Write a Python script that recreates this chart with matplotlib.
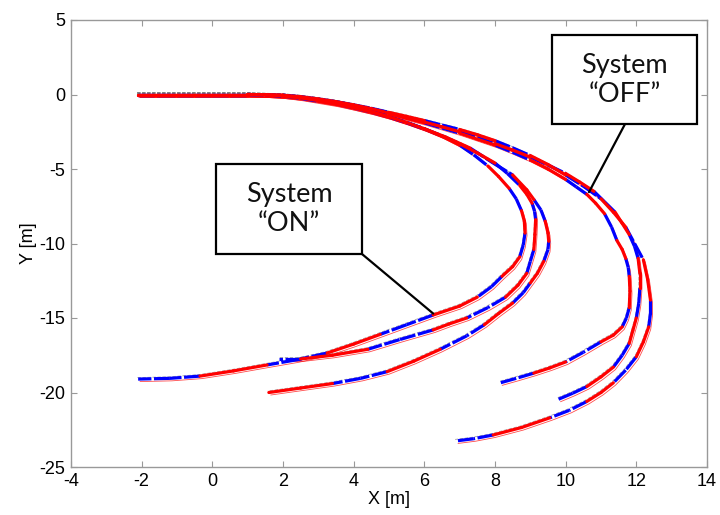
import numpy as np
import matplotlib
matplotlib.use("Agg")
import matplotlib.pyplot as plt
from matplotlib.collections import LineCollection
from matplotlib.patches import Rectangle
from matplotlib.transforms import offset_copy

plt.rcParams['font.family'] = ['Liberation Sans', 'DejaVu Sans']
plt.rcParams['axes.unicode_minus'] = False

# trajectories, system ON (turn near x = 9)
on1_x = [-2.1, -1.5, -1, -0.5, 0, 0.5, 1, 1.5, 2, 2.5, 3, 3.5, 4, 4.5, 5, 5.5, 6, 6.5, 7, 7.4, 7.8, 8.1, 8.4, 8.6,
         8.75, 8.83, 8.85, 8.8, 8.7, 8.5, 8.2, 7.9, 7.5, 7.0, 6.25, 5.5, 4.75, 4.0, 3.25, 2.4, 1.55, 0.6, -0.35, -1.2, -2.1]
on1_y = [0, 0, 0, 0, 0, 0, 0, -0.03, -0.1, -0.22, -0.4, -0.6, -0.85, -1.15, -1.5, -1.88, -2.3, -2.8, -3.4, -4.05, -4.8,
         -5.5, -6.3, -7.0, -7.8, -8.5, -9.3, -10.1, -10.9, -11.55, -12.2, -12.9, -13.6, -14.2, -14.8, -15.45, -16.1,
         -16.75, -17.35, -17.8, -18.15, -18.55, -18.9, -19.05, -19.1]

on2_x = [-2.1, -1.5, -1, -0.5, 0, 0.5, 1, 1.5, 2, 2.5, 3, 3.5, 4, 4.5, 5, 5.5, 6, 6.5, 7, 7.5, 8, 8.35, 8.7, 8.9,
         9.05, 9.12, 9.15, 9.13, 9.1, 9.0, 8.9, 8.65, 8.3, 7.8, 7.2, 6.7, 6.25, 5.3, 4.4, 3.4, 2.5, 1.9]
on2_y = [0, 0, 0, 0, 0, 0, 0, -0.03, -0.1, -0.25, -0.45, -0.65, -0.9, -1.18, -1.5, -1.88, -2.3, -2.78, -3.3, -3.92,
         -4.6, -5.3, -6.1, -6.7, -7.3, -7.85, -8.4, -9.4, -10.4, -11.2, -12.0, -12.8, -13.6, -14.3, -15.0, -15.4,
         -15.8, -16.45, -17.1, -17.5, -17.75, -17.75]

on3_x = [-2.1, -1.5, -1, -0.5, 0, 0.5, 1, 1.5, 2, 2.5, 3, 3.5, 4, 4.5, 5, 5.5, 6, 6.6, 7.3, 7.95, 8.5, 8.9, 9.1, 9.3,
         9.42, 9.5, 9.52, 9.5, 9.38, 9.2, 9.0, 8.8, 8.5, 8.1, 7.7, 7.2, 6.45, 5.7, 4.95, 4.2, 3.4, 2.5, 1.6]
on3_y = [0, 0, 0, 0, 0, 0, 0, -0.03, -0.1, -0.22, -0.4, -0.62, -0.9, -1.18, -1.5, -1.88, -2.3, -2.85, -3.6, -4.6, -5.4,
         -6.4, -7.05, -7.75, -8.5, -9.3, -9.85, -10.4, -11.2, -12.0, -12.65, -13.3, -14.0, -14.7, -15.45, -16.2,
         -17.1, -17.9, -18.6, -19.05, -19.4, -19.7, -20.0]

# trajectories, system OFF (turn near x = 12)
off1_x = [-2.1, -1.5, -1, -0.5, 0, 0.5, 1, 1.5, 2, 2.5, 3, 3.5, 4, 4.5, 5, 5.5, 6, 6.5, 7, 7.5, 8, 8.5, 9, 9.5, 10,
          10.3, 10.6, 10.85, 11.1, 11.3, 11.45, 11.6, 11.7, 11.77, 11.8, 11.82, 11.8, 11.72, 11.6, 11.35, 11.0,
          10.5, 10.0, 9.55, 9.1, 8.6, 8.15]
off1_y = [0, 0, 0, 0, 0, 0, 0, -0.02, -0.05, -0.18, -0.35, -0.53, -0.75, -1.0, -1.3, -1.6, -1.9, -2.25, -2.6, -3.0,
          -3.4, -3.88, -4.4, -5.0, -5.7, -6.2, -6.7, -7.3, -8.0, -8.9, -9.8, -10.4, -11.0, -11.6, -12.2, -13.2,
          -14.3, -15.0, -15.6, -16.15, -16.6, -17.3, -17.95, -18.35, -18.7, -19.05, -19.35]

off2_x = [-2.1, -1.5, -1, -0.5, 0, 0.5, 1, 1.5, 2, 2.5, 3, 3.5, 4, 4.5, 5, 5.5, 6, 6.5, 7, 7.5, 8, 8.5, 9, 9.5, 10,
          10.4, 10.8, 11.1, 11.4, 11.6, 11.8, 11.95, 12.05, 12.1, 12.1, 12.07, 12.0, 11.9, 11.8, 11.6, 11.35, 11.0,
          10.6, 10.2, 9.8]
off2_y = [0, 0, 0, 0, 0, 0, 0, -0.02, -0.05, -0.15, -0.3, -0.48, -0.7, -0.95, -1.25, -1.55, -1.85, -2.17, -2.5,
          -2.88, -3.3, -3.73, -4.2, -4.73, -5.3, -5.88, -6.5, -7.2, -7.9, -8.65, -9.4, -10.2, -11.0, -12.0, -13.0,
          -14.0, -15.0, -15.85, -16.7, -17.5, -18.3, -18.95, -19.6, -20.05, -20.45]

off3_x = [-2.1, -1.5, -1, -0.5, 0, 0.5, 1, 1.5, 2, 2.5, 3, 3.5, 4, 4.5, 5, 5.5, 6, 6.5, 7, 7.5, 8, 8.5, 9, 9.5, 10,
          10.5, 11, 11.35, 11.7, 11.95, 12.2, 12.32, 12.4, 12.4, 12.35, 12.2, 12.0, 11.7, 11.35, 11.0, 10.6, 10.1,
          9.55, 8.75, 7.95, 7.4, 6.9]
off3_y = [0, 0, 0, 0, 0, 0, 0, -0.02, -0.05, -0.15, -0.3, -0.48, -0.7, -0.93, -1.2, -1.47, -1.75, -2.05, -2.35,
          -2.7, -3.1, -3.58, -4.1, -4.7, -5.4, -6.15, -7.0, -7.9, -8.9, -10.0, -11.1, -12.4, -13.8, -14.7, -15.6,
          -16.6, -17.6, -18.5, -19.35, -20.0, -20.6, -21.2, -21.7, -22.35, -22.85, -23.1, -23.25]

runs = [(on1_x, on1_y), (on2_x, on2_y), (on3_x, on3_y),
        (off1_x, off1_y), (off2_x, off2_y), (off3_x, off3_y)]

x_ticks = list(range(-4, 15, 2))
y_ticks = list(range(-25, 6, 5))

fig = plt.figure(figsize=(7.2, 5.15), dpi=100)
ax = fig.add_axes([71/720, 48/515, 636/720, 447/515])

for k, (xs, ys) in enumerate(runs):
    # thin reference traces
    tr_r = offset_copy(ax.transData, fig=fig, x=2.0, y=-2.5, units='dots')
    ax.plot(xs, ys, color='red', lw=0.6, alpha=0.7, transform=tr_r, zorder=2)
    tr_g = offset_copy(ax.transData, fig=fig, x=-1.0, y=1.5, units='dots')
    ax.plot(xs, ys, color='0.4', lw=0.6, ls=(0, (4, 2)), alpha=0.6, transform=tr_g, zorder=2)

    pts = np.column_stack([xs, ys])
    segs = [pts[i:i + 2] for i in range(len(pts) - 1)]
    red = [s for i, s in enumerate(segs) if (i // 2 + k) % 2 == 0]
    blue = [s for i, s in enumerate(segs) if (i // 2 + k) % 2 == 1]
    ax.add_collection(LineCollection(blue, colors='#0000ff', linewidths=2.3,
                                     linestyles=[(0, (5, 0.8))], zorder=3))
    ax.add_collection(LineCollection(red, colors='#ff0000', linewidths=2.3,
                                     capstyle='round', zorder=4))

ax.set_xlim(-4, 14)
ax.set_ylim(-25, 5)
ax.set_xticks(x_ticks)
ax.set_yticks(y_ticks)
ax.tick_params(direction='in', top=True, right=True, length=4, color='0.6',
               labelsize=13, pad=4)
for s in ax.spines.values():
    s.set_color('0.6')
    s.set_linewidth(1)
ax.set_xlabel('X [m]', fontsize=13, labelpad=1)
ax.set_ylabel('Y [m]', fontsize=13, labelpad=2)

# annotation boxes (axes fraction)
boxes = [
    ((0.228, 0.4765), 0.2295, 0.2015, 'System\n\u201cON\u201d', (0.4575, 0.4765), (6.25, -14.7)),
    ((0.756, 0.767), 0.228, 0.199, 'System\n\u201cOFF\u201d', (0.871, 0.767), (10.66, -6.55)),
]
for (x0, y0), w, h, label, start, end in boxes:
    ax.add_patch(Rectangle((x0, y0), w, h, transform=ax.transAxes, facecolor='white',
                           edgecolor='black', lw=1.6, zorder=6, clip_on=False))
    ax.text(x0 + w / 2, y0 + h / 2, label, transform=ax.transAxes, ha='center',
            va='center', fontsize=19.5, family=['Lato', 'DejaVu Sans'],
            linespacing=1.2, color='#111111', zorder=7)
    ax.annotate('', xy=end, xycoords='data', xytext=start, textcoords='axes fraction',
                arrowprops=dict(arrowstyle='-', color='black', lw=1.6,
                                shrinkA=0, shrinkB=0), zorder=5)

fig.savefig('out.png', dpi=100)
